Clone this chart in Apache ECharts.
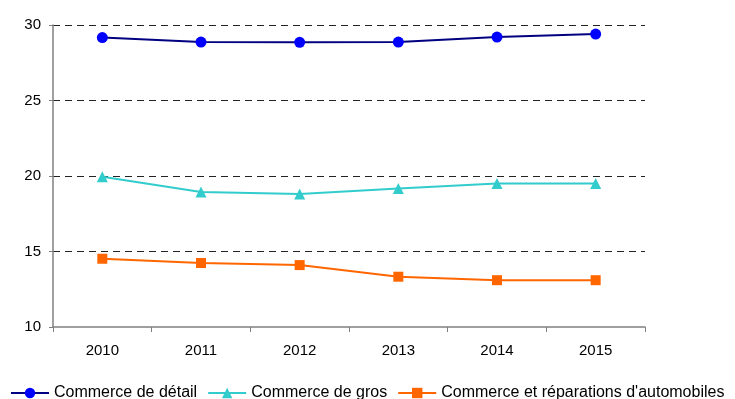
<!DOCTYPE html>
<html>
<head>
<meta charset="utf-8">
<script src="https://cdn.jsdelivr.net/npm/echarts@6/dist/echarts.min.js"></script>
<style>
  html, body { margin: 0; padding: 0; background: #fff; }
  #chart { width: 735px; height: 399px; }
</style>
</head>
<body>
<div id="chart"></div>
<script>
  var years = ['2010', '2011', '2012', '2013', '2014', '2015']
  var detail = [29.17, 28.87, 28.85, 28.87, 29.2, 29.4]
  var gros = [19.95, 18.94, 18.81, 19.17, 19.5, 19.5]
  var auto = [14.52, 14.24, 14.1, 13.33, 13.1, 13.1]
  var names = ['Commerce de détail', 'Commerce de gros', "Commerce et réparations d'automobiles"]

  var chart = echarts.init(document.getElementById('chart'))
  var font = 'Liberation Sans, Arial, sans-serif'

  chart.setOption({
    backgroundColor: '#fff',
    animation: false,
    textStyle: { fontFamily: font },
    grid: { left: 53, right: 90, top: 25, bottom: 72 },
    legend: {
      left: 10,
      top: 385,
      width: 740,
      padding: 0,
      itemWidth: 38,
      itemHeight: 13,
      itemGap: 10,
      textStyle: { fontSize: 16, color: '#000', fontFamily: font },
      data: names
    },
    xAxis: {
      type: 'category',
      data: years,
      boundaryGap: true,
      z: 5,
      axisLine: { lineStyle: { color: '#808080', width: 1.5 } },
      axisTick: { show: true, length: 5, lineStyle: { color: '#808080' } },
      axisLabel: { fontSize: 15, color: '#000', margin: 16 }
    },
    yAxis: {
      type: 'value',
      min: 10,
      max: 30,
      interval: 5,
      axisLine: { show: true, lineStyle: { color: '#808080', width: 1.5 } },
      axisTick: { show: true, length: 4, lineStyle: { color: '#808080' } },
      axisLabel: { fontSize: 15, color: '#000', margin: 12 },
      splitLine: { showMinLine: false, lineStyle: { color: '#222', type: [7, 5], width: 1 } }
    },
    series: [
      {
        name: names[0],
        type: 'line',
        data: detail,
        symbol: 'circle',
        symbolSize: 11,
        lineStyle: { color: '#000080', width: 2 },
        itemStyle: { color: '#0000ff' }
      },
      {
        name: names[1],
        type: 'line',
        data: gros,
        symbol: 'triangle',
        symbolSize: 11,
        lineStyle: { color: '#33cccc', width: 2 },
        itemStyle: { color: '#33cccc' }
      },
      {
        name: names[2],
        type: 'line',
        data: auto,
        symbol: 'rect',
        symbolSize: 10,
        lineStyle: { color: '#ff6600', width: 2 },
        itemStyle: { color: '#ff6600' }
      }
    ]
  })
</script>
</body>
</html>
